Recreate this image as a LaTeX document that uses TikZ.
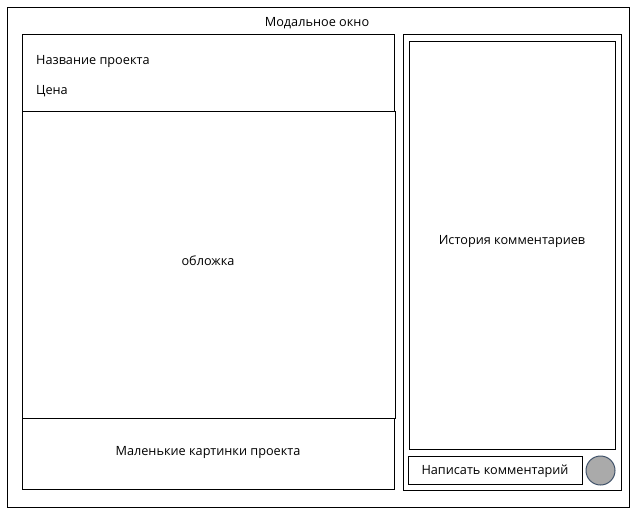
\documentclass[tikz,border=0pt]{standalone}
\usepackage{fontspec}
\setmainfont{Open Sans}
\begin{document}
\begin{tikzpicture}[x=1pt,y=-1pt,
  box/.style={draw=black,line width=1pt},
  lbl/.style={font=\fontsize{12.7}{14}\selectfont,inner sep=0pt}]
\useasboundingbox (0,0) rectangle (636,514);
\fill[white] (0,0) rectangle (636,514);
\draw[box] (7.5,7.5) rectangle (629,507) coordinate (outerbr);
\node[lbl] (title) at (317,23) {Модальное окно};
% left column
\draw[box] (22,34) rectangle (394,111);
\node[lbl,anchor=west] (name) at (36,61) {Название проекта};
\node[lbl,anchor=west] (price) at (36,91) {Цена};
\draw[box] (22,111) rectangle (395,418);
\node[lbl] (cover) at (208,261) {обложка};
\draw[box] (22,418) rectangle (394,489);
\node[lbl] (thumbs) at (208,452.5) {Маленькие картинки проекта};
% right column
\draw[box] (403,34) rectangle (621,490);
\draw[box] (409,41) rectangle (615.5,449);
\node[lbl] (hist) at (512,241) {История комментариев};
\draw[box] (408,456) rectangle (582,484);
\node[lbl] (write) at (495,471) {Написать комментарий};
\node[circle,draw={rgb,255:red,65;green,83;blue,107},fill={rgb,255:red,170;green,170;blue,170},line width=1pt,minimum size=29pt,inner sep=0pt] (send) at (600.5,470.5) {};
\end{tikzpicture}
\end{document}
